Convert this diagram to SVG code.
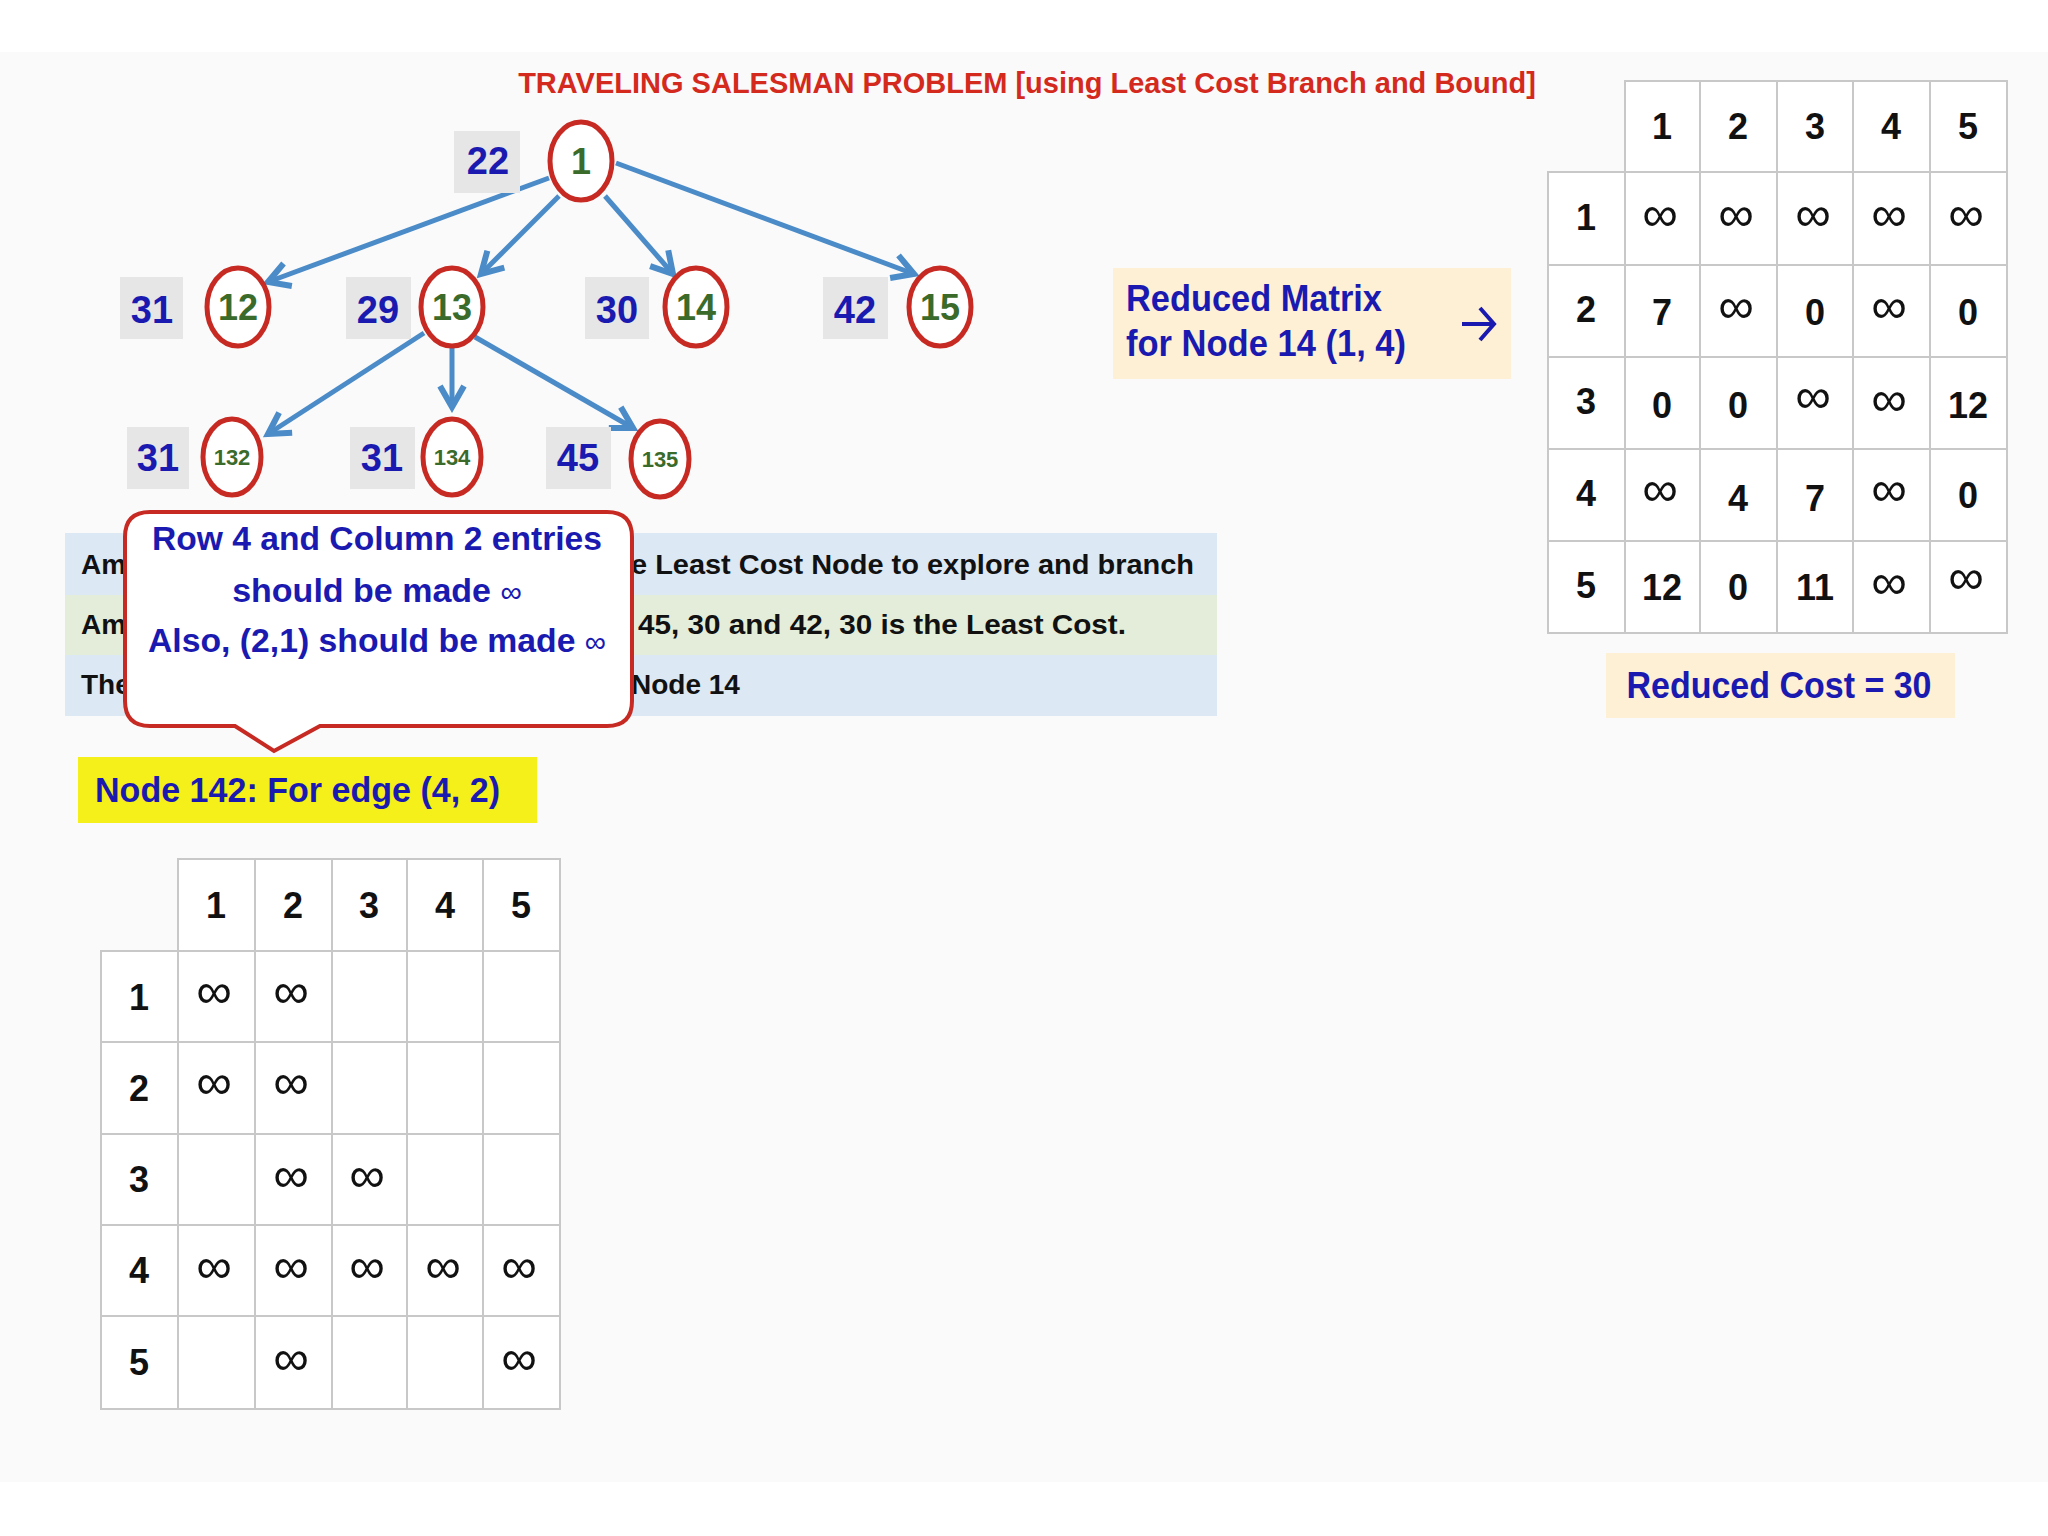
<svg xmlns="http://www.w3.org/2000/svg" width="2048" height="1536" viewBox="0 0 2048 1536">
<defs>
<marker id="ah" viewBox="0 0 10 10" refX="8" refY="5" markerWidth="6" markerHeight="6" orient="auto-start-reverse">
<path d="M1,1 L8,5 L1,9" fill="none" stroke="#4a8bc8" stroke-width="2"/>
</marker>
<style>
text{font-family:"Liberation Sans",Arial,sans-serif;font-weight:bold}
.node{fill:#fff;stroke:#c62a22;stroke-width:5}
.nt{fill:#3a6b2a;font-size:36px;text-anchor:middle}
.ns{fill:#3a6b2a;font-size:22px;text-anchor:middle}
.lb{fill:#e6e6e6}
.lt{fill:#1a1ab0;font-size:38px;text-anchor:middle}
.edge{stroke:#4a8bc8;stroke-width:5;fill:none;marker-end:url(#ah)}
.grid{stroke:#c8c8c8;stroke-width:2;fill:#fff}
.mt{fill:#111;font-size:36px;text-anchor:middle}
.inf{fill:#111;font-size:50px;text-anchor:middle;font-weight:normal}
.bt{fill:#111;font-size:28px}
.ct{fill:#1a1ab0;font-size:34px;text-anchor:middle}
</style>
</defs>
<rect width="2048" height="1536" fill="#ffffff"/>
<rect x="0" y="52" width="2048" height="1430" fill="#fafafa"/>
<text x="1027" y="93" fill="#d42a1e" font-size="29" text-anchor="middle">TRAVELING SALESMAN PROBLEM [using Least Cost Branch and Bound]</text>

<g id="connectors">
<line class="edge" x1="549" y1="178" x2="268" y2="282"/>
<line class="edge" x1="559" y1="196" x2="481" y2="274"/>
<line class="edge" x1="605" y1="196" x2="673" y2="274"/>
<line class="edge" x1="616" y1="163" x2="914" y2="274"/>
<line class="edge" x1="424" y1="333" x2="268" y2="434"/>
<line class="edge" x1="452" y1="346" x2="452" y2="407"/>
<line class="edge" x1="475" y1="337" x2="633" y2="428"/>
</g>

<g id="n1"><rect class="lb" x="454" y="131" width="66" height="62"/><text class="lt" x="488" y="174">22</text><ellipse class="node" cx="581" cy="161" rx="31" ry="39"/><text class="nt" x="581" y="174">1</text></g>
<g id="n12"><rect class="lb" x="120" y="277" width="63" height="62"/><text class="lt" x="152" y="323">31</text><ellipse class="node" cx="238" cy="307" rx="31" ry="39"/><text class="nt" x="238" y="320">12</text></g>
<g id="n13"><rect class="lb" x="346" y="277" width="65" height="62"/><text class="lt" x="378" y="323">29</text><ellipse class="node" cx="452" cy="307" rx="31" ry="39"/><text class="nt" x="452" y="320">13</text></g>
<g id="n14"><rect class="lb" x="585" y="277" width="64" height="62"/><text class="lt" x="617" y="323">30</text><ellipse class="node" cx="696" cy="307" rx="31" ry="39"/><text class="nt" x="696" y="320">14</text></g>
<g id="n15"><rect class="lb" x="823" y="277" width="65" height="62"/><text class="lt" x="855" y="323">42</text><ellipse class="node" cx="940" cy="307" rx="31" ry="39"/><text class="nt" x="940" y="320">15</text></g>
<g id="n132"><rect class="lb" x="127" y="427" width="62" height="62"/><text class="lt" x="158" y="471">31</text><ellipse class="node" cx="232" cy="457" rx="29" ry="38"/><text class="ns" x="232" y="465">132</text></g>
<g id="n134"><rect class="lb" x="350" y="427" width="65" height="62"/><text class="lt" x="382" y="471">31</text><ellipse class="node" cx="452" cy="457" rx="29" ry="38"/><text class="ns" x="452" y="465">134</text></g>
<g id="n135"><rect class="lb" x="546" y="427" width="65" height="62"/><text class="lt" x="578" y="471">45</text><ellipse class="node" cx="660" cy="459" rx="29" ry="38"/><text class="ns" x="660" y="467">135</text></g>

<g id="explain">
<rect x="65" y="533" width="1152" height="62" fill="#dce8f3"/>
<rect x="65" y="595" width="1152" height="60" fill="#e3edd9"/>
<rect x="65" y="655" width="1152" height="61" fill="#dce8f3"/>
<text class="bt" x="81" y="574">Am</text>
<text class="bt" x="631" y="574" textLength="563" lengthAdjust="spacingAndGlyphs">e Least Cost Node to explore and branch</text>
<text class="bt" x="81" y="634">Am</text>
<text class="bt" x="638" y="634" textLength="488" lengthAdjust="spacingAndGlyphs">45, 30 and 42, 30 is the Least Cost.</text>
<text class="bt" x="81" y="694">The</text>
<text class="bt" x="631" y="694">Node 14</text>
</g>

<g id="callout">
<path d="M150,512 H607 Q632,512 632,537 V701 Q632,726 607,726 H320 L274,751 L235,726 H150 Q125,726 125,701 V537 Q125,512 150,512 Z" fill="#fff" stroke="#c62a22" stroke-width="4"/>
<text class="ct" x="377" y="550" textLength="450" lengthAdjust="spacingAndGlyphs">Row 4 and Column 2 entries</text>
<text class="ct" x="377" y="602">should be made <tspan font-size="30" font-weight="normal">∞</tspan></text>
<text class="ct" x="377" y="652" textLength="458" lengthAdjust="spacingAndGlyphs">Also, (2,1) should be made <tspan font-size="30" font-weight="normal">∞</tspan></text>
</g>

<g id="node142">
<rect x="78" y="757" width="459" height="66" fill="#f5ef1a"/>
<text x="95" y="802" fill="#1a1ab0" font-size="35" textLength="405" lengthAdjust="spacingAndGlyphs">Node 142: For edge (4, 2)</text>
</g>

<g id="matrix142">
<rect class="grid" x="178" y="859" width="382" height="92"/>
<rect class="grid" x="101" y="951" width="459" height="458"/>
<g stroke="#c8c8c8" stroke-width="2">
<line x1="255" y1="859" x2="255" y2="1409"/><line x1="332" y1="859" x2="332" y2="1409"/><line x1="407" y1="859" x2="407" y2="1409"/><line x1="483" y1="859" x2="483" y2="1409"/><line x1="178" y1="951" x2="178" y2="1409"/>
<line x1="101" y1="1042" x2="560" y2="1042"/><line x1="101" y1="1134" x2="560" y2="1134"/><line x1="101" y1="1225" x2="560" y2="1225"/><line x1="101" y1="1316" x2="560" y2="1316"/>
</g>
<text class="mt" x="216" y="918">1</text><text class="mt" x="293" y="918">2</text><text class="mt" x="369" y="918">3</text><text class="mt" x="445" y="918">4</text><text class="mt" x="521" y="918">5</text>
<text class="mt" x="139" y="1010">1</text><text class="mt" x="139" y="1101">2</text><text class="mt" x="139" y="1192">3</text><text class="mt" x="139" y="1283">4</text><text class="mt" x="139" y="1375">5</text>
<text class="inf" x="214" y="1008">∞</text><text class="inf" x="291" y="1008">∞</text>
<text class="inf" x="214" y="1099">∞</text><text class="inf" x="291" y="1099">∞</text>
<text class="inf" x="291" y="1192">∞</text><text class="inf" x="367" y="1192">∞</text>
<text class="inf" x="214" y="1283">∞</text><text class="inf" x="291" y="1283">∞</text><text class="inf" x="367" y="1283">∞</text><text class="inf" x="443" y="1283">∞</text><text class="inf" x="519" y="1283">∞</text>
<text class="inf" x="291" y="1375">∞</text><text class="inf" x="519" y="1375">∞</text>
</g>

<g id="reducedLabel">
<rect x="1113" y="268" width="398" height="111" fill="#fdf0d5"/>
<text x="1126" y="311" fill="#1a1ab0" font-size="36" textLength="256" lengthAdjust="spacingAndGlyphs">Reduced Matrix</text>
<text x="1126" y="356" fill="#1a1ab0" font-size="36" textLength="280" lengthAdjust="spacingAndGlyphs">for Node 14 (1, 4)</text>
<path d="M1462,324 H1494 M1480,308 L1494,324 L1480,340" fill="none" stroke="#1a1ab0" stroke-width="4"/>
</g>

<g id="matrix14">
<rect class="grid" x="1625" y="81" width="382" height="91"/>
<rect class="grid" x="1548" y="172" width="459" height="461"/>
<g stroke="#c8c8c8" stroke-width="2">
<line x1="1700" y1="81" x2="1700" y2="633"/><line x1="1777" y1="81" x2="1777" y2="633"/><line x1="1853" y1="81" x2="1853" y2="633"/><line x1="1930" y1="81" x2="1930" y2="633"/><line x1="1625" y1="172" x2="1625" y2="633"/>
<line x1="1548" y1="265" x2="2007" y2="265"/><line x1="1548" y1="357" x2="2007" y2="357"/><line x1="1548" y1="449" x2="2007" y2="449"/><line x1="1548" y1="541" x2="2007" y2="541"/>
</g>
<text class="mt" x="1662" y="139">1</text><text class="mt" x="1738" y="139">2</text><text class="mt" x="1815" y="139">3</text><text class="mt" x="1891" y="139">4</text><text class="mt" x="1968" y="139">5</text>
<text class="mt" x="1586" y="230">1</text><text class="mt" x="1586" y="322">2</text><text class="mt" x="1586" y="414">3</text><text class="mt" x="1586" y="506">4</text><text class="mt" x="1586" y="598">5</text>
<text class="inf" x="1660" y="231">∞</text><text class="inf" x="1736" y="231">∞</text><text class="inf" x="1813" y="231">∞</text><text class="inf" x="1889" y="231">∞</text><text class="inf" x="1966" y="231">∞</text>
<text class="mt" x="1662" y="325">7</text><text class="inf" x="1736" y="323">∞</text><text class="mt" x="1815" y="325">0</text><text class="inf" x="1889" y="323">∞</text><text class="mt" x="1968" y="325">0</text>
<text class="mt" x="1662" y="418">0</text><text class="mt" x="1738" y="418">0</text><text class="inf" x="1813" y="413">∞</text><text class="inf" x="1889" y="416">∞</text><text class="mt" x="1968" y="418">12</text>
<text class="inf" x="1660" y="506">∞</text><text class="mt" x="1738" y="511">4</text><text class="mt" x="1815" y="511">7</text><text class="inf" x="1889" y="506">∞</text><text class="mt" x="1968" y="508">0</text>
<text class="mt" x="1662" y="600">12</text><text class="mt" x="1738" y="600">0</text><text class="mt" x="1815" y="600">11</text><text class="inf" x="1889" y="599">∞</text><text class="inf" x="1966" y="594">∞</text>
</g>

<g id="reducedCost">
<rect x="1606" y="653" width="349" height="65" fill="#fdf0d5"/>
<text x="1779" y="698" fill="#1a1ab0" font-size="36" text-anchor="middle" textLength="305" lengthAdjust="spacingAndGlyphs">Reduced Cost = 30</text>
</g>
</svg>
